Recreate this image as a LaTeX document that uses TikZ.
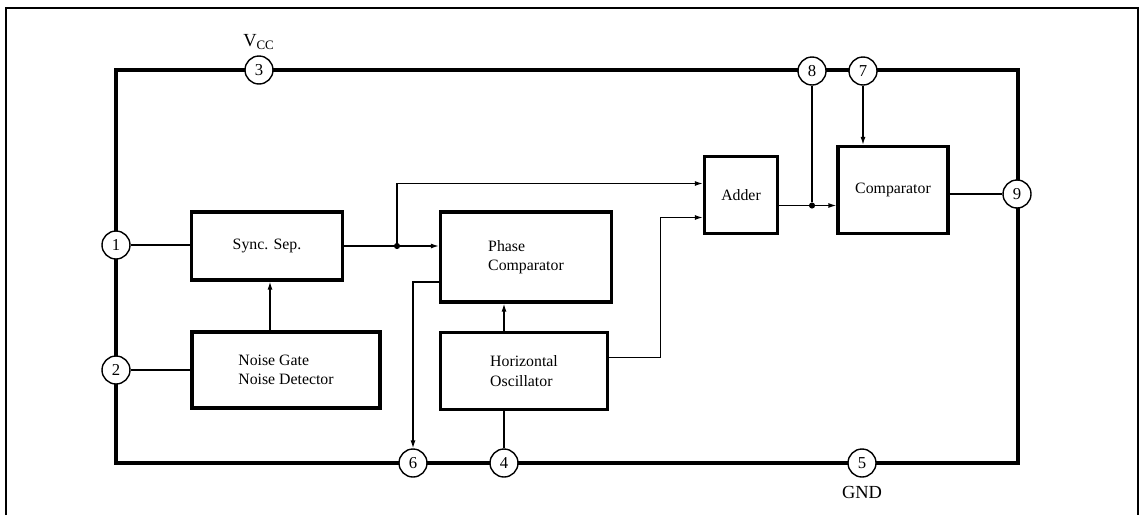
\documentclass[tikz,border=0pt]{standalone}
\usepackage{fontspec}
\setmainfont{Liberation Serif}
\usetikzlibrary{arrows.meta}

\begin{document}
\begin{tikzpicture}[x=0.02cm,y=-0.02cm,
    chip/.style={line width=2.2pt},
    blk/.style={draw,line width=1.9pt,inner sep=2pt,font=\fontsize{9}{11}\selectfont},
    pinc/.style={draw,circle,fill=white,line width=0.8pt,minimum size=0.56cm,inner sep=0pt,font=\fontsize{9.5}{11}\selectfont},
    wire/.style={line width=0.7pt},
    dot/.style={circle,fill,inner sep=0pt,minimum size=3.5pt},
    >={Latex[length=4.5pt,width=2.8pt]}]
  \useasboundingbox (0,0) rectangle (1142,515);
  % sheet frame and chip outline
  \draw[line width=0.6pt] (6,515) -- (6,8) -- (1138,8) -- (1138,515);
  \draw[chip] (116,70) rectangle (1018,463);
  % blocks
  \node[blk,minimum width=3.02cm,minimum height=1.36cm] (sync) at (267,246) {Sync. Sep.};
  \node[blk,minimum width=3.76cm,minimum height=1.52cm,align=left] (noise) at (286,370) {Noise Gate\\Noise Detector};
  \node[blk,minimum width=3.42cm,minimum height=1.8cm,align=left] (phase) at (526,257) {Phase\\Comparator};
  \node[blk,minimum width=3.34cm,minimum height=1.54cm,align=left] (osc) at (524,371) {Horizontal\\Oscillator};
  \node[blk,minimum width=1.46cm,minimum height=1.54cm] (adder) at (741,195) {Adder};
  \node[blk,minimum width=2.2cm,minimum height=1.74cm] (comp) at (893,190) {Comparator};
  % pins
  \draw
    (259,70) node[pinc] (p3){3}
    (812,71) node[pinc] (p8){8}
    (863,71) node[pinc] (p7){7}
    (116,245) node[pinc] (p1){1}
    (116,370) node[pinc] (p2){2}
    (1017,194) node[pinc] (p9){9}
    (413,463) node[pinc] (p6){6}
    (504,463) node[pinc] (p4){4}
    (862,463) node[pinc] (p5){5};
  \node[font=\fontsize{10.5}{12}\selectfont] (vcc) at (259,42) {V\textsubscript{CC}};
  \node[font=\fontsize{10.5}{12}\selectfont] (gnd) at (862,492) {GND};
  % junctions
  \node[dot] (j1) at (397,246) {};
  \coordinate (ain1) at ([yshift=0.23cm]adder.west);
  \coordinate (ain2) at ([yshift=-0.45cm]adder.west);
  \coordinate (aout) at ([yshift=-0.21cm]adder.east);
  \node[dot] (j2) at (p8 |- aout) {};
  % connectors
  \begin{scope}[wire]
    \draw (p1) -- (p1 -| sync.west);
    \draw (p2) -- (p2 -| noise.west);
    \draw[->] ([xshift=0.06cm]sync.south |- noise.north) -- ([xshift=0.06cm]sync.south);
    \draw (sync.east |- j1) -- (j1);
    \draw[->] (j1) -- (j1 -| phase.west);
    \draw[->] (j1) |- (ain1);
    \draw[->] ([yshift=-0.5cm]phase.west) -| (p6.north);
    \draw (p4) -- (p4 |- osc.south);
    \draw[->] (p4 |- osc.north) -- (p4 |- phase.south);
    \draw[->] ([yshift=0.27cm]osc.east) -- ++(1.02cm,0) |- (ain2);
    \draw (aout) -- (j2);
    \draw[->] (j2) -- (j2 -| comp.west);
    \draw (p8) -- (j2);
    \draw[->] (p7) -- (p7 |- comp.north);
    \draw (comp.east |- p9) -- (p9);
  \end{scope}
\end{tikzpicture}
\end{document}
